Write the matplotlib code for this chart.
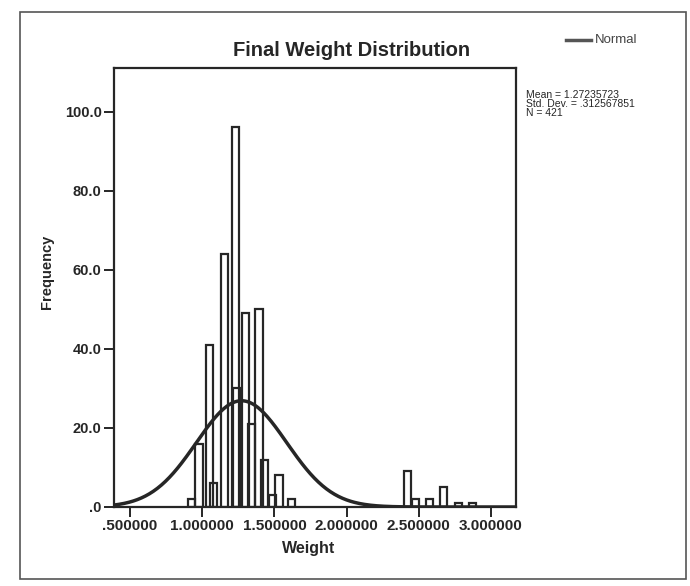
import numpy as np
import matplotlib
matplotlib.use("Agg")
import matplotlib.pyplot as plt
from matplotlib.patches import Rectangle

# Data
bar_centers = [0.925, 0.978, 1.05, 1.08, 1.155, 1.228, 1.235, 1.298, 1.343, 1.393,
               1.433, 1.486, 1.532, 1.617, 2.42, 2.475, 2.575, 2.672, 2.775, 2.87]
bar_counts = [2, 16, 41, 6, 64, 96, 30, 49, 21, 50,
              12, 3, 8, 2, 9, 2, 2, 5, 1, 1]
bin_width = 0.05
mean_w = 1.27235723
sd_w = 0.312567851
n_obs = 421
x_ticks = [0.5, 1.0, 1.5, 2.0, 2.5, 3.0]
x_tick_labels = [".500000", "1.000000", "1.500000", "2.000000", "2.500000", "3.000000"]
y_ticks = [0, 20, 40, 60, 80, 100]
y_tick_labels = [".0", "20.0", "40.0", "60.0", "80.0", "100.0"]

plt.rcParams['font.family'] = ['Liberation Sans', 'DejaVu Sans']
ink = '#262626'

fig = plt.figure(figsize=(6.9, 5.86), dpi=100)
ax = fig.add_axes([114/690, 1-507/586, (516-114)/690, (507-68)/586])

ax.bar(bar_centers, bar_counts, width=bin_width, fill=False,
       edgecolor=ink, linewidth=1.6, zorder=2)

xs = np.linspace(0.39, 3.17, 400)
pdf = n_obs * bin_width / (sd_w * np.sqrt(2*np.pi)) * np.exp(-0.5*((xs-mean_w)/sd_w)**2)
ax.plot(xs, pdf, color=ink, linewidth=2.5, zorder=3)

ax.set_xlim(0.389, 3.173)
ax.set_ylim(0, 111)
ax.set_xticks(x_ticks)
ax.set_xticklabels(x_tick_labels, fontweight='bold', fontsize=11)
ax.set_yticks(y_ticks)
ax.set_yticklabels(y_tick_labels, fontweight='bold', fontsize=10.5)
ax.tick_params(direction='out', length=7, width=1.4, color=ink, labelcolor=ink, pad=2)
for s in ax.spines.values():
    s.set_linewidth(1.6)
    s.set_color(ink)

fig.text(309/690, 1-549/586, "Weight", fontweight='bold', fontsize=11.5,
         ha='center', va='center', color=ink)
fig.text(47/690, 1-272/586, "Frequency", fontweight='bold', fontsize=10.5,
         ha='center', va='center', rotation=90, color=ink)

fig.text(352/690, 1-50/586, "Final Weight Distribution", fontweight='bold',
         fontsize=14.5, ha='center', va='center', color=ink)

# legend
fig.add_artist(plt.Line2D([566/690, 591/690], [1-40/586, 1-40/586],
                          color='#555555', linewidth=2.5))
fig.text(595/690, 1-40/586, "Normal", fontsize=9.5, ha='left', va='center', color='#444444')

fig.text(526/690, 1-104/586, "Mean = 1.27235723\nStd. Dev. = .312567851\nN = 421",
         fontsize=7.5, ha='left', va='center', color=ink, linespacing=0.9)

# outer frame
fig.add_artist(Rectangle((20/690, 1-579/586), (686-20)/690, (579-12)/586,
                         transform=fig.transFigure, fill=False,
                         edgecolor='#555555', linewidth=1.2))

fig.savefig("out.png", dpi=100, facecolor='white')
